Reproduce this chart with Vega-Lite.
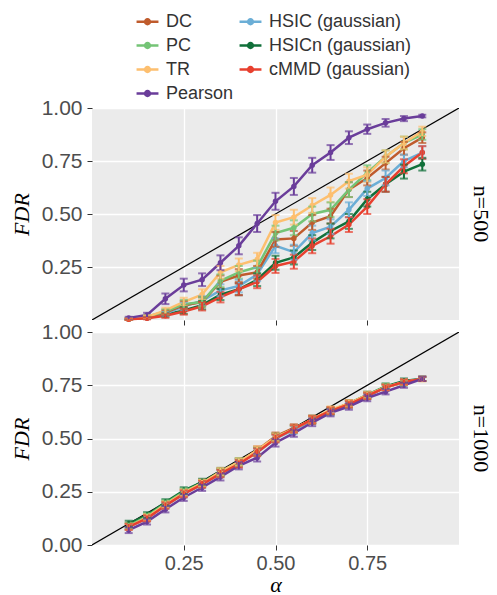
{
"$schema": "https://vega.github.io/schema/vega-lite/v6.json",
"padding": {"left": 10, "top": 9, "right": 5, "bottom": 0},
"background": "white",
"bounds": "flush",
"data": {"values": [
{"n":500,"m":"HSICn (gaussian)","a":0.1,"f":0.003,"e":0.003},{"n":500,"m":"HSICn (gaussian)","a":0.15,"f":0.01,"e":0.005},{"n":500,"m":"HSICn (gaussian)","a":0.2,"f":0.025,"e":0.01},{"n":500,"m":"HSICn (gaussian)","a":0.25,"f":0.045,"e":0.016},{"n":500,"m":"HSICn (gaussian)","a":0.3,"f":0.07,"e":0.02},{"n":500,"m":"HSICn (gaussian)","a":0.35,"f":0.12,"e":0.026},{"n":500,"m":"HSICn (gaussian)","a":0.4,"f":0.145,"e":0.028},{"n":500,"m":"HSICn (gaussian)","a":0.45,"f":0.19,"e":0.03},{"n":500,"m":"HSICn (gaussian)","a":0.5,"f":0.27,"e":0.033},{"n":500,"m":"HSICn (gaussian)","a":0.55,"f":0.295,"e":0.033},{"n":500,"m":"HSICn (gaussian)","a":0.6,"f":0.365,"e":0.035},{"n":500,"m":"HSICn (gaussian)","a":0.65,"f":0.42,"e":0.035},{"n":500,"m":"HSICn (gaussian)","a":0.7,"f":0.465,"e":0.035},{"n":500,"m":"HSICn (gaussian)","a":0.75,"f":0.57,"e":0.035},{"n":500,"m":"HSICn (gaussian)","a":0.8,"f":0.64,"e":0.035},{"n":500,"m":"HSICn (gaussian)","a":0.85,"f":0.70,"e":0.033},{"n":500,"m":"HSICn (gaussian)","a":0.9,"f":0.735,"e":0.03},
{"n":500,"m":"HSIC (gaussian)","a":0.1,"f":0.003,"e":0.003},{"n":500,"m":"HSIC (gaussian)","a":0.15,"f":0.01,"e":0.005},{"n":500,"m":"HSIC (gaussian)","a":0.2,"f":0.03,"e":0.01},{"n":500,"m":"HSIC (gaussian)","a":0.25,"f":0.065,"e":0.018},{"n":500,"m":"HSIC (gaussian)","a":0.3,"f":0.09,"e":0.022},{"n":500,"m":"HSIC (gaussian)","a":0.35,"f":0.14,"e":0.028},{"n":500,"m":"HSIC (gaussian)","a":0.4,"f":0.16,"e":0.03},{"n":500,"m":"HSIC (gaussian)","a":0.45,"f":0.215,"e":0.032},{"n":500,"m":"HSIC (gaussian)","a":0.5,"f":0.35,"e":0.035},{"n":500,"m":"HSIC (gaussian)","a":0.55,"f":0.32,"e":0.035},{"n":500,"m":"HSIC (gaussian)","a":0.6,"f":0.41,"e":0.035},{"n":500,"m":"HSIC (gaussian)","a":0.65,"f":0.44,"e":0.035},{"n":500,"m":"HSIC (gaussian)","a":0.7,"f":0.52,"e":0.035},{"n":500,"m":"HSIC (gaussian)","a":0.75,"f":0.62,"e":0.035},{"n":500,"m":"HSIC (gaussian)","a":0.8,"f":0.67,"e":0.035},{"n":500,"m":"HSIC (gaussian)","a":0.85,"f":0.75,"e":0.03},{"n":500,"m":"HSIC (gaussian)","a":0.9,"f":0.79,"e":0.03},
{"n":500,"m":"DC","a":0.1,"f":0.005,"e":0.004},{"n":500,"m":"DC","a":0.15,"f":0.012,"e":0.006},{"n":500,"m":"DC","a":0.2,"f":0.035,"e":0.012},{"n":500,"m":"DC","a":0.25,"f":0.07,"e":0.02},{"n":500,"m":"DC","a":0.3,"f":0.085,"e":0.022},{"n":500,"m":"DC","a":0.35,"f":0.18,"e":0.03},{"n":500,"m":"DC","a":0.4,"f":0.21,"e":0.03},{"n":500,"m":"DC","a":0.45,"f":0.225,"e":0.03},{"n":500,"m":"DC","a":0.5,"f":0.38,"e":0.035},{"n":500,"m":"DC","a":0.55,"f":0.385,"e":0.035},{"n":500,"m":"DC","a":0.6,"f":0.46,"e":0.035},{"n":500,"m":"DC","a":0.65,"f":0.49,"e":0.035},{"n":500,"m":"DC","a":0.7,"f":0.615,"e":0.035},{"n":500,"m":"DC","a":0.75,"f":0.67,"e":0.035},{"n":500,"m":"DC","a":0.8,"f":0.74,"e":0.03},{"n":500,"m":"DC","a":0.85,"f":0.81,"e":0.03},{"n":500,"m":"DC","a":0.9,"f":0.86,"e":0.025},
{"n":500,"m":"PC","a":0.1,"f":0.005,"e":0.004},{"n":500,"m":"PC","a":0.15,"f":0.015,"e":0.006},{"n":500,"m":"PC","a":0.2,"f":0.04,"e":0.012},{"n":500,"m":"PC","a":0.25,"f":0.075,"e":0.02},{"n":500,"m":"PC","a":0.3,"f":0.085,"e":0.022},{"n":500,"m":"PC","a":0.35,"f":0.185,"e":0.03},{"n":500,"m":"PC","a":0.4,"f":0.225,"e":0.03},{"n":500,"m":"PC","a":0.45,"f":0.25,"e":0.03},{"n":500,"m":"PC","a":0.5,"f":0.41,"e":0.035},{"n":500,"m":"PC","a":0.55,"f":0.435,"e":0.035},{"n":500,"m":"PC","a":0.6,"f":0.50,"e":0.035},{"n":500,"m":"PC","a":0.65,"f":0.52,"e":0.035},{"n":500,"m":"PC","a":0.7,"f":0.615,"e":0.035},{"n":500,"m":"PC","a":0.75,"f":0.695,"e":0.035},{"n":500,"m":"PC","a":0.8,"f":0.77,"e":0.03},{"n":500,"m":"PC","a":0.85,"f":0.835,"e":0.03},{"n":500,"m":"PC","a":0.9,"f":0.875,"e":0.025},
{"n":500,"m":"TR","a":0.1,"f":0.005,"e":0.004},{"n":500,"m":"TR","a":0.15,"f":0.015,"e":0.007},{"n":500,"m":"TR","a":0.2,"f":0.045,"e":0.013},{"n":500,"m":"TR","a":0.25,"f":0.085,"e":0.02},{"n":500,"m":"TR","a":0.3,"f":0.12,"e":0.025},{"n":500,"m":"TR","a":0.35,"f":0.225,"e":0.03},{"n":500,"m":"TR","a":0.4,"f":0.26,"e":0.03},{"n":500,"m":"TR","a":0.45,"f":0.285,"e":0.032},{"n":500,"m":"TR","a":0.5,"f":0.46,"e":0.035},{"n":500,"m":"TR","a":0.55,"f":0.485,"e":0.035},{"n":500,"m":"TR","a":0.6,"f":0.54,"e":0.035},{"n":500,"m":"TR","a":0.65,"f":0.59,"e":0.035},{"n":500,"m":"TR","a":0.7,"f":0.655,"e":0.035},{"n":500,"m":"TR","a":0.75,"f":0.685,"e":0.035},{"n":500,"m":"TR","a":0.8,"f":0.77,"e":0.03},{"n":500,"m":"TR","a":0.85,"f":0.835,"e":0.03},{"n":500,"m":"TR","a":0.9,"f":0.89,"e":0.022},
{"n":500,"m":"cMMD (gaussian)","a":0.1,"f":0.003,"e":0.003},{"n":500,"m":"cMMD (gaussian)","a":0.15,"f":0.008,"e":0.005},{"n":500,"m":"cMMD (gaussian)","a":0.2,"f":0.02,"e":0.01},{"n":500,"m":"cMMD (gaussian)","a":0.25,"f":0.04,"e":0.015},{"n":500,"m":"cMMD (gaussian)","a":0.3,"f":0.065,"e":0.02},{"n":500,"m":"cMMD (gaussian)","a":0.35,"f":0.108,"e":0.025},{"n":500,"m":"cMMD (gaussian)","a":0.4,"f":0.145,"e":0.028},{"n":500,"m":"cMMD (gaussian)","a":0.45,"f":0.18,"e":0.03},{"n":500,"m":"cMMD (gaussian)","a":0.5,"f":0.255,"e":0.033},{"n":500,"m":"cMMD (gaussian)","a":0.55,"f":0.275,"e":0.033},{"n":500,"m":"cMMD (gaussian)","a":0.6,"f":0.35,"e":0.035},{"n":500,"m":"cMMD (gaussian)","a":0.65,"f":0.395,"e":0.035},{"n":500,"m":"cMMD (gaussian)","a":0.7,"f":0.45,"e":0.035},{"n":500,"m":"cMMD (gaussian)","a":0.75,"f":0.535,"e":0.035},{"n":500,"m":"cMMD (gaussian)","a":0.8,"f":0.64,"e":0.035},{"n":500,"m":"cMMD (gaussian)","a":0.85,"f":0.725,"e":0.033},{"n":500,"m":"cMMD (gaussian)","a":0.9,"f":0.79,"e":0.03},
{"n":500,"m":"Pearson","a":0.1,"f":0.01,"e":0.005},{"n":500,"m":"Pearson","a":0.15,"f":0.024,"e":0.01},{"n":500,"m":"Pearson","a":0.2,"f":0.10,"e":0.025},{"n":500,"m":"Pearson","a":0.25,"f":0.165,"e":0.03},{"n":500,"m":"Pearson","a":0.3,"f":0.19,"e":0.03},{"n":500,"m":"Pearson","a":0.35,"f":0.27,"e":0.035},{"n":500,"m":"Pearson","a":0.4,"f":0.35,"e":0.04},{"n":500,"m":"Pearson","a":0.45,"f":0.455,"e":0.04},{"n":500,"m":"Pearson","a":0.5,"f":0.56,"e":0.04},{"n":500,"m":"Pearson","a":0.55,"f":0.63,"e":0.04},{"n":500,"m":"Pearson","a":0.6,"f":0.73,"e":0.035},{"n":500,"m":"Pearson","a":0.65,"f":0.79,"e":0.035},{"n":500,"m":"Pearson","a":0.7,"f":0.86,"e":0.03},{"n":500,"m":"Pearson","a":0.75,"f":0.90,"e":0.022},{"n":500,"m":"Pearson","a":0.8,"f":0.93,"e":0.018},{"n":500,"m":"Pearson","a":0.85,"f":0.95,"e":0.012},{"n":500,"m":"Pearson","a":0.9,"f":0.962,"e":0.006},
{"n":1000,"m":"HSICn (gaussian)","a":0.1,"f":0.10,"e":0.014},{"n":1000,"m":"HSICn (gaussian)","a":0.15,"f":0.14,"e":0.014},{"n":1000,"m":"HSICn (gaussian)","a":0.2,"f":0.20,"e":0.015},{"n":1000,"m":"HSICn (gaussian)","a":0.25,"f":0.255,"e":0.016},{"n":1000,"m":"HSICn (gaussian)","a":0.3,"f":0.295,"e":0.016},{"n":1000,"m":"HSICn (gaussian)","a":0.35,"f":0.345,"e":0.017},{"n":1000,"m":"HSICn (gaussian)","a":0.4,"f":0.39,"e":0.017},{"n":1000,"m":"HSICn (gaussian)","a":0.45,"f":0.44,"e":0.018},{"n":1000,"m":"HSICn (gaussian)","a":0.5,"f":0.505,"e":0.018},{"n":1000,"m":"HSICn (gaussian)","a":0.55,"f":0.545,"e":0.017},{"n":1000,"m":"HSICn (gaussian)","a":0.6,"f":0.59,"e":0.017},{"n":1000,"m":"HSICn (gaussian)","a":0.65,"f":0.63,"e":0.016},{"n":1000,"m":"HSICn (gaussian)","a":0.7,"f":0.665,"e":0.015},{"n":1000,"m":"HSICn (gaussian)","a":0.75,"f":0.705,"e":0.015},{"n":1000,"m":"HSICn (gaussian)","a":0.8,"f":0.745,"e":0.013},{"n":1000,"m":"HSICn (gaussian)","a":0.85,"f":0.77,"e":0.012},{"n":1000,"m":"HSICn (gaussian)","a":0.9,"f":0.78,"e":0.01},
{"n":1000,"m":"HSIC (gaussian)","a":0.1,"f":0.085,"e":0.014},{"n":1000,"m":"HSIC (gaussian)","a":0.15,"f":0.125,"e":0.014},{"n":1000,"m":"HSIC (gaussian)","a":0.2,"f":0.185,"e":0.015},{"n":1000,"m":"HSIC (gaussian)","a":0.25,"f":0.24,"e":0.016},{"n":1000,"m":"HSIC (gaussian)","a":0.3,"f":0.285,"e":0.016},{"n":1000,"m":"HSIC (gaussian)","a":0.35,"f":0.335,"e":0.017},{"n":1000,"m":"HSIC (gaussian)","a":0.4,"f":0.385,"e":0.017},{"n":1000,"m":"HSIC (gaussian)","a":0.45,"f":0.435,"e":0.018},{"n":1000,"m":"HSIC (gaussian)","a":0.5,"f":0.50,"e":0.018},{"n":1000,"m":"HSIC (gaussian)","a":0.55,"f":0.54,"e":0.017},{"n":1000,"m":"HSIC (gaussian)","a":0.6,"f":0.585,"e":0.017},{"n":1000,"m":"HSIC (gaussian)","a":0.65,"f":0.625,"e":0.016},{"n":1000,"m":"HSIC (gaussian)","a":0.7,"f":0.66,"e":0.015},{"n":1000,"m":"HSIC (gaussian)","a":0.75,"f":0.70,"e":0.015},{"n":1000,"m":"HSIC (gaussian)","a":0.8,"f":0.74,"e":0.013},{"n":1000,"m":"HSIC (gaussian)","a":0.85,"f":0.765,"e":0.012},{"n":1000,"m":"HSIC (gaussian)","a":0.9,"f":0.78,"e":0.01},
{"n":1000,"m":"DC","a":0.1,"f":0.09,"e":0.014},{"n":1000,"m":"DC","a":0.15,"f":0.13,"e":0.014},{"n":1000,"m":"DC","a":0.2,"f":0.19,"e":0.015},{"n":1000,"m":"DC","a":0.25,"f":0.245,"e":0.016},{"n":1000,"m":"DC","a":0.3,"f":0.29,"e":0.016},{"n":1000,"m":"DC","a":0.35,"f":0.34,"e":0.017},{"n":1000,"m":"DC","a":0.4,"f":0.385,"e":0.017},{"n":1000,"m":"DC","a":0.45,"f":0.445,"e":0.018},{"n":1000,"m":"DC","a":0.5,"f":0.51,"e":0.018},{"n":1000,"m":"DC","a":0.55,"f":0.55,"e":0.017},{"n":1000,"m":"DC","a":0.6,"f":0.585,"e":0.017},{"n":1000,"m":"DC","a":0.65,"f":0.63,"e":0.016},{"n":1000,"m":"DC","a":0.7,"f":0.665,"e":0.015},{"n":1000,"m":"DC","a":0.75,"f":0.70,"e":0.015},{"n":1000,"m":"DC","a":0.8,"f":0.74,"e":0.013},{"n":1000,"m":"DC","a":0.85,"f":0.765,"e":0.012},{"n":1000,"m":"DC","a":0.9,"f":0.78,"e":0.01},
{"n":1000,"m":"PC","a":0.1,"f":0.09,"e":0.014},{"n":1000,"m":"PC","a":0.15,"f":0.135,"e":0.014},{"n":1000,"m":"PC","a":0.2,"f":0.195,"e":0.015},{"n":1000,"m":"PC","a":0.25,"f":0.25,"e":0.016},{"n":1000,"m":"PC","a":0.3,"f":0.29,"e":0.016},{"n":1000,"m":"PC","a":0.35,"f":0.34,"e":0.017},{"n":1000,"m":"PC","a":0.4,"f":0.39,"e":0.017},{"n":1000,"m":"PC","a":0.45,"f":0.44,"e":0.018},{"n":1000,"m":"PC","a":0.5,"f":0.505,"e":0.018},{"n":1000,"m":"PC","a":0.55,"f":0.545,"e":0.017},{"n":1000,"m":"PC","a":0.6,"f":0.59,"e":0.017},{"n":1000,"m":"PC","a":0.65,"f":0.63,"e":0.016},{"n":1000,"m":"PC","a":0.7,"f":0.66,"e":0.015},{"n":1000,"m":"PC","a":0.75,"f":0.70,"e":0.015},{"n":1000,"m":"PC","a":0.8,"f":0.745,"e":0.013},{"n":1000,"m":"PC","a":0.85,"f":0.76,"e":0.012},{"n":1000,"m":"PC","a":0.9,"f":0.78,"e":0.01},
{"n":1000,"m":"TR","a":0.1,"f":0.085,"e":0.014},{"n":1000,"m":"TR","a":0.15,"f":0.13,"e":0.014},{"n":1000,"m":"TR","a":0.2,"f":0.19,"e":0.015},{"n":1000,"m":"TR","a":0.25,"f":0.245,"e":0.016},{"n":1000,"m":"TR","a":0.3,"f":0.29,"e":0.016},{"n":1000,"m":"TR","a":0.35,"f":0.345,"e":0.017},{"n":1000,"m":"TR","a":0.4,"f":0.39,"e":0.017},{"n":1000,"m":"TR","a":0.45,"f":0.445,"e":0.018},{"n":1000,"m":"TR","a":0.5,"f":0.505,"e":0.018},{"n":1000,"m":"TR","a":0.55,"f":0.545,"e":0.017},{"n":1000,"m":"TR","a":0.6,"f":0.59,"e":0.017},{"n":1000,"m":"TR","a":0.65,"f":0.635,"e":0.016},{"n":1000,"m":"TR","a":0.7,"f":0.665,"e":0.015},{"n":1000,"m":"TR","a":0.75,"f":0.705,"e":0.015},{"n":1000,"m":"TR","a":0.8,"f":0.74,"e":0.013},{"n":1000,"m":"TR","a":0.85,"f":0.765,"e":0.012},{"n":1000,"m":"TR","a":0.9,"f":0.778,"e":0.01},
{"n":1000,"m":"cMMD (gaussian)","a":0.1,"f":0.085,"e":0.014},{"n":1000,"m":"cMMD (gaussian)","a":0.15,"f":0.125,"e":0.014},{"n":1000,"m":"cMMD (gaussian)","a":0.2,"f":0.185,"e":0.015},{"n":1000,"m":"cMMD (gaussian)","a":0.25,"f":0.24,"e":0.016},{"n":1000,"m":"cMMD (gaussian)","a":0.3,"f":0.285,"e":0.016},{"n":1000,"m":"cMMD (gaussian)","a":0.35,"f":0.335,"e":0.017},{"n":1000,"m":"cMMD (gaussian)","a":0.4,"f":0.38,"e":0.017},{"n":1000,"m":"cMMD (gaussian)","a":0.45,"f":0.435,"e":0.018},{"n":1000,"m":"cMMD (gaussian)","a":0.5,"f":0.50,"e":0.018},{"n":1000,"m":"cMMD (gaussian)","a":0.55,"f":0.545,"e":0.017},{"n":1000,"m":"cMMD (gaussian)","a":0.6,"f":0.59,"e":0.017},{"n":1000,"m":"cMMD (gaussian)","a":0.65,"f":0.63,"e":0.016},{"n":1000,"m":"cMMD (gaussian)","a":0.7,"f":0.66,"e":0.015},{"n":1000,"m":"cMMD (gaussian)","a":0.75,"f":0.70,"e":0.015},{"n":1000,"m":"cMMD (gaussian)","a":0.8,"f":0.74,"e":0.013},{"n":1000,"m":"cMMD (gaussian)","a":0.85,"f":0.765,"e":0.012},{"n":1000,"m":"cMMD (gaussian)","a":0.9,"f":0.78,"e":0.01},
{"n":1000,"m":"Pearson","a":0.1,"f":0.07,"e":0.014},{"n":1000,"m":"Pearson","a":0.15,"f":0.11,"e":0.014},{"n":1000,"m":"Pearson","a":0.2,"f":0.168,"e":0.015},{"n":1000,"m":"Pearson","a":0.25,"f":0.223,"e":0.016},{"n":1000,"m":"Pearson","a":0.3,"f":0.27,"e":0.016},{"n":1000,"m":"Pearson","a":0.35,"f":0.32,"e":0.017},{"n":1000,"m":"Pearson","a":0.4,"f":0.372,"e":0.017},{"n":1000,"m":"Pearson","a":0.45,"f":0.41,"e":0.018},{"n":1000,"m":"Pearson","a":0.5,"f":0.48,"e":0.018},{"n":1000,"m":"Pearson","a":0.55,"f":0.525,"e":0.017},{"n":1000,"m":"Pearson","a":0.6,"f":0.575,"e":0.017},{"n":1000,"m":"Pearson","a":0.65,"f":0.62,"e":0.016},{"n":1000,"m":"Pearson","a":0.7,"f":0.65,"e":0.015},{"n":1000,"m":"Pearson","a":0.75,"f":0.69,"e":0.015},{"n":1000,"m":"Pearson","a":0.8,"f":0.72,"e":0.013},{"n":1000,"m":"Pearson","a":0.85,"f":0.75,"e":0.012},{"n":1000,"m":"Pearson","a":0.9,"f":0.78,"e":0.01}
]},
"spacing": 12,
"vconcat": [
{
"width": 367, "height": 212,
"title": {"text": "n=500", "orient": "right", "font": "Liberation Serif", "fontSize": 22, "fontWeight": "normal", "color": "black", "offset": 10},
"layer": [
{"data": {"values": [{"p0": 0, "p1": 1}]},
 "mark": {"type": "rule", "color": "black", "strokeWidth": 1.2, "clip": true},
 "encoding": {"x": {"field": "p0", "type": "quantitative", "scale": {"domain": [0, 1], "nice": false}}, "x2": {"field": "p1"}, "y": {"field": "p0", "type": "quantitative", "scale": {"domain": [0, 1], "nice": false}}, "y2": {"field": "p1"}}},
{"transform": [{"filter": "datum.n == 500"}],
 "encoding": {
  "x": {"field": "a", "type": "quantitative", "scale": {"domain": [0, 1], "nice": false}, "axis": {"values": [0.25, 0.5, 0.75], "labels": false, "title": null}},
  "y": {"field": "f", "type": "quantitative", "scale": {"domain": [0, 1], "nice": false}, "axis": {"values": [0.25, 0.5, 0.75, 1], "format": ".2f", "title": "FDR", "labelPadding": 5, "labelFontSize": 21}},
  "color": {"field": "m", "type": "nominal", "scale": {"domain": ["DC", "PC", "TR", "Pearson", "HSIC (gaussian)", "HSICn (gaussian)", "cMMD (gaussian)"], "range": ["#bf5b2c", "#74c476", "#fdbf6f", "#6a3d9a", "#6baed6", "#11703a", "#e8402f"]}, "legend": {"title": null, "orient": "none", "legendX": 43, "legendY": -99, "columns": 2, "columnPadding": 0, "rowPadding": 2, "labelFont": "Liberation Sans", "labelFontSize": 18, "labelColor": "#333333", "symbolType": "M-1,0L1,0M-0.22,0A0.22,0.22,0,1,0,0.22,0A0.22,0.22,0,1,0,-0.22,0Z", "symbolSize": 480, "symbolStrokeWidth": 2.5, "labelOffset": 6}}
 },
 "layer": [
  {"mark": {"type": "line", "strokeWidth": 2.5}},
  {"mark": {"type": "point", "filled": true, "size": 30, "opacity": 1}},
  {"mark": {"type": "errorbar", "ticks": true, "size": 8, "thickness": 2}, "encoding": {"yError": {"field": "e"}}}
 ]}
]
},
{
"width": 367, "height": 213,
"title": {"text": "n=1000", "orient": "right", "font": "Liberation Serif", "fontSize": 22, "fontWeight": "normal", "color": "black", "offset": 10},
"layer": [
{"data": {"values": [{"p0": 0, "p1": 1}]},
 "mark": {"type": "rule", "color": "black", "strokeWidth": 1.2, "clip": true},
 "encoding": {"x": {"field": "p0", "type": "quantitative", "scale": {"domain": [0, 1], "nice": false}}, "x2": {"field": "p1"}, "y": {"field": "p0", "type": "quantitative", "scale": {"domain": [0, 1], "nice": false}}, "y2": {"field": "p1"}}},
{"transform": [{"filter": "datum.n == 1000"}],
 "encoding": {
  "x": {"field": "a", "type": "quantitative", "scale": {"domain": [0, 1], "nice": false}, "axis": {"values": [0.25, 0.5, 0.75], "format": ".2f", "title": "α", "titlePadding": 1}},
  "y": {"field": "f", "type": "quantitative", "scale": {"domain": [0, 1], "nice": false}, "axis": {"values": [0, 0.25, 0.5, 0.75, 1], "format": ".2f", "title": "FDR", "labelPadding": 5, "labelFontSize": 21}},
  "color": {"field": "m", "type": "nominal", "scale": {"domain": ["DC", "PC", "TR", "Pearson", "HSIC (gaussian)", "HSICn (gaussian)", "cMMD (gaussian)"], "range": ["#bf5b2c", "#74c476", "#fdbf6f", "#6a3d9a", "#6baed6", "#11703a", "#e8402f"]}}
 },
 "layer": [
  {"mark": {"type": "line", "strokeWidth": 2.5}},
  {"mark": {"type": "point", "filled": true, "size": 30, "opacity": 1}},
  {"mark": {"type": "errorbar", "ticks": true, "size": 8, "thickness": 2}, "encoding": {"yError": {"field": "e"}}}
 ]}
]
}
],
"config": {
 "view": {"fill": "#ebebeb", "stroke": null},
 "axis": {"labelFont": "Liberation Sans", "labelFontSize": 20, "labelColor": "#4d4d4d", "tickColor": "#333333", "tickSize": 5, "labelPadding": 3, "domain": false, "gridColor": "white", "gridWidth": 1.3, "titleFont": "Liberation Serif", "titleFontStyle": "italic", "titleFontWeight": "normal", "titleFontSize": 22, "titleColor": "black", "titlePadding": 8}
}
}
